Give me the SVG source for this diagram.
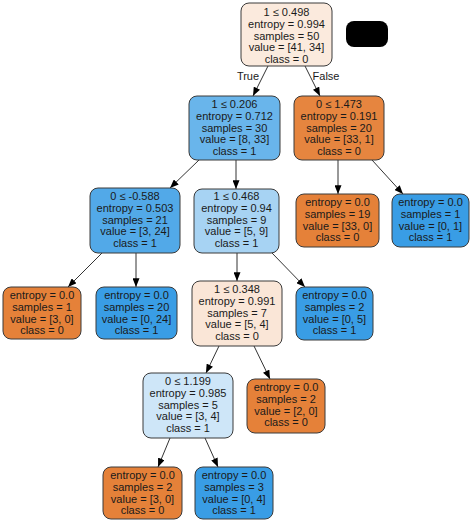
<svg xmlns="http://www.w3.org/2000/svg" width="474" height="523" viewBox="0 0 474 523">
<style>
.n{stroke:#3a3a3a;stroke-width:1}
text{font-family:"Liberation Sans",Arial,sans-serif;font-size:11px;fill:#1a1a1a;text-anchor:middle}
.e{stroke:#333;stroke-width:1;fill:none;marker-end:url(#a)}
</style>
<defs>
<marker id="a" viewBox="0 0 10 8" refX="10" refY="4" markerWidth="9" markerHeight="7" markerUnits="userSpaceOnUse" orient="auto">
<path d="M0,0 L10,4 L0,8 z" fill="#000"/>
</marker>
</defs>
<rect width="474" height="523" fill="#fff"/>
<g id="edges">
<path class="e" d="M268,66 L253,96"/>
<path class="e" d="M305,66 L320,96"/>
<path class="e" d="M199,160 L170,188"/>
<path class="e" d="M236,160 L236,189"/>
<path class="e" d="M338,160 L338,194"/>
<path class="e" d="M372,160 L403,194"/>
<path class="e" d="M102,253 L68,287"/>
<path class="e" d="M136,253 L136,287"/>
<path class="e" d="M237,253 L237,281"/>
<path class="e" d="M272,253 L305,287"/>
<path class="e" d="M219,346 L206,373"/>
<path class="e" d="M254,346 L270,379"/>
<path class="e" d="M170,438 L158,467"/>
<path class="e" d="M205,438 L218,467"/>
<text x="248" y="80">True</text>
<text x="326" y="80">False</text>
</g>
<g id="n0"><rect class="n" x="241" y="3" width="91" height="63" rx="8" fill="#fbeadd"/>
<text x="286.5" y="16">1 ≤ 0.498</text><text x="286.5" y="27.75">entropy = 0.994</text><text x="286.5" y="39.5">samples = 50</text><text x="286.5" y="51.25">value = [41, 34]</text><text x="286.5" y="63">class = 0</text></g>
<g id="redact"><rect x="346" y="21" width="42" height="26" rx="8" fill="#000"/></g>
<g id="n1"><rect class="n" x="189" y="96" width="91" height="64" rx="8" fill="#69b5eb"/>
<text x="234.5" y="108">1 ≤ 0.206</text><text x="234.5" y="119.75">entropy = 0.712</text><text x="234.5" y="131.5">samples = 30</text><text x="234.5" y="143.25">value = [8, 33]</text><text x="234.5" y="155">class = 1</text></g>
<g id="n2"><rect class="n" x="294" y="96" width="90" height="64" rx="8" fill="#e6853f"/>
<text x="339" y="108">0 ≤ 1.473</text><text x="339" y="119.75">entropy = 0.191</text><text x="339" y="131.5">samples = 20</text><text x="339" y="143.25">value = [33, 1]</text><text x="339" y="155">class = 0</text></g>
<g id="n3"><rect class="n" x="90" y="188" width="90" height="65" rx="8" fill="#52a9e8"/>
<text x="135" y="200">0 ≤ -0.588</text><text x="135" y="211.75">entropy = 0.503</text><text x="135" y="223.5">samples = 21</text><text x="135" y="235.25">value = [3, 24]</text><text x="135" y="247">class = 1</text></g>
<g id="n4"><rect class="n" x="194" y="189" width="85" height="64" rx="8" fill="#a7d3f3"/>
<text x="236.5" y="200">1 ≤ 0.468</text><text x="236.5" y="211.75">entropy = 0.94</text><text x="236.5" y="223.5">samples = 9</text><text x="236.5" y="235.25">value = [5, 9]</text><text x="236.5" y="247">class = 1</text></g>
<g id="n5"><rect class="n" x="296" y="194" width="83" height="53" rx="8" fill="#e58139"/>
<text x="337.5" y="206">entropy = 0.0</text><text x="337.5" y="217.75">samples = 19</text><text x="337.5" y="229.5">value = [33, 0]</text><text x="337.5" y="241.25">class = 0</text></g>
<g id="n6"><rect class="n" x="392" y="194" width="77" height="53" rx="8" fill="#399de5"/>
<text x="430.5" y="206">entropy = 0.0</text><text x="430.5" y="217.75">samples = 1</text><text x="430.5" y="229.5">value = [0, 1]</text><text x="430.5" y="241.25">class = 1</text></g>
<g id="n7"><rect class="n" x="3" y="287" width="78" height="52" rx="8" fill="#e58139"/>
<text x="42" y="299">entropy = 0.0</text><text x="42" y="310.75">samples = 1</text><text x="42" y="322.5">value = [3, 0]</text><text x="42" y="334.25">class = 0</text></g>
<g id="n8"><rect class="n" x="96" y="287" width="81" height="52" rx="8" fill="#399de5"/>
<text x="136.5" y="299">entropy = 0.0</text><text x="136.5" y="310.75">samples = 20</text><text x="136.5" y="322.5">value = [0, 24]</text><text x="136.5" y="334.25">class = 1</text></g>
<g id="n9"><rect class="n" x="192" y="281" width="90" height="65" rx="8" fill="#fae6d7"/>
<text x="237" y="293">1 ≤ 0.348</text><text x="237" y="304.75">entropy = 0.991</text><text x="237" y="316.5">samples = 7</text><text x="237" y="328.25">value = [5, 4]</text><text x="237" y="340">class = 0</text></g>
<g id="n10"><rect class="n" x="296" y="287" width="77" height="53" rx="8" fill="#399de5"/>
<text x="334.5" y="299">entropy = 0.0</text><text x="334.5" y="310.75">samples = 2</text><text x="334.5" y="322.5">value = [0, 5]</text><text x="334.5" y="334.25">class = 1</text></g>
<g id="n11"><rect class="n" x="143" y="373" width="90" height="65" rx="8" fill="#cee6f8"/>
<text x="188" y="385">0 ≤ 1.199</text><text x="188" y="396.75">entropy = 0.985</text><text x="188" y="408.5">samples = 5</text><text x="188" y="420.25">value = [3, 4]</text><text x="188" y="432">class = 1</text></g>
<g id="n12"><rect class="n" x="247" y="379" width="78" height="54" rx="8" fill="#e58139"/>
<text x="286" y="391">entropy = 0.0</text><text x="286" y="402.75">samples = 2</text><text x="286" y="414.5">value = [2, 0]</text><text x="286" y="426.25">class = 0</text></g>
<g id="n13"><rect class="n" x="103" y="467" width="79" height="52" rx="8" fill="#e58139"/>
<text x="142.5" y="479">entropy = 0.0</text><text x="142.5" y="490.75">samples = 2</text><text x="142.5" y="502.5">value = [3, 0]</text><text x="142.5" y="514.25">class = 0</text></g>
<g id="n14"><rect class="n" x="195" y="467" width="78" height="52" rx="8" fill="#399de5"/>
<text x="234" y="479">entropy = 0.0</text><text x="234" y="490.75">samples = 3</text><text x="234" y="502.5">value = [0, 4]</text><text x="234" y="514.25">class = 1</text></g>
</svg>
